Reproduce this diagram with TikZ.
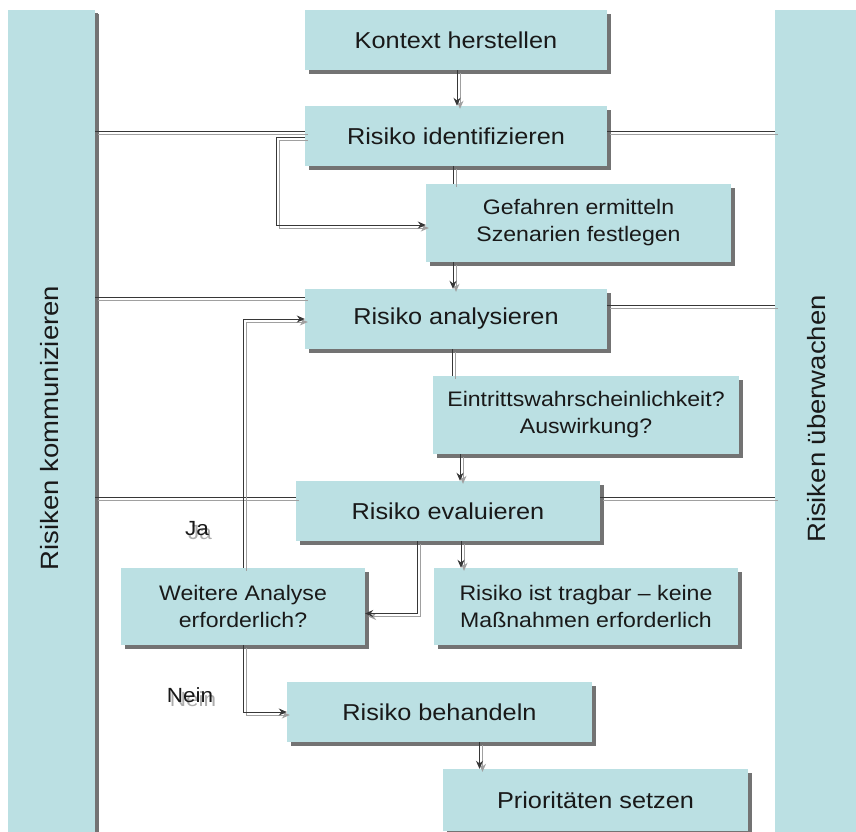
\documentclass[tikz,border=0pt]{standalone}
\usepackage{fontspec}
\setmainfont{Liberation Sans}[FakeStretch=1.1]
\usetikzlibrary{shadows,arrows.meta,calc}
\definecolor{boxfill}{RGB}{187,224,227}
\definecolor{ink}{RGB}{25,25,25}
\definecolor{linkdark}{RGB}{55,55,55}
\definecolor{linklight}{RGB}{160,160,160}
\definecolor{shade}{RGB}{115,115,115}
% every connector is drawn twice: a light offset copy, then the dark line
\newcommand\flowline[2]{\draw[linkshade,#1]#2;\draw[link,#1]#2;}
\begin{document}
\begin{tikzpicture}[x=1pt,y=-1pt,
  procbox/.style={fill=boxfill,draw=none,inner sep=0pt,align=center,text=ink,
    drop shadow={shadow xshift=4pt,shadow yshift=-4pt,fill=shade,opacity=1}},
  bigtext/.style={font=\fontsize{23}{27}\selectfont},
  smalltext/.style={font=\fontsize{21}{27}\selectfont},
  sidetext/.style={font=\fontsize{25}{30}\selectfont,text=ink,rotate=90,inner sep=0pt},
  labeltext/.style={font=\fontsize{20.5}{24}\selectfont,inner sep=0pt},
  link/.style={draw=linkdark,line width=0.9pt},
  linkshade/.style={draw=linklight,line width=0.9pt,transform canvas={xshift=3pt,yshift=-3pt}},
  tip/.style={-{Stealth[length=8pt,width=7pt]}}]
\useasboundingbox (0,0) rectangle (856,831);
\begin{scope}
\clip (0,0) rectangle (856,831);

% side bars
\node[procbox,minimum width=87pt,minimum height=830pt,
  drop shadow={shadow xshift=3pt,shadow yshift=-3pt,fill=shade,opacity=1}] (lbar) at (51.5,425) {};
\node[procbox,minimum width=95pt,minimum height=830pt] (rbar) at (822.5,425) {};
\node[sidetext] (lbartext) at (50,428) {Risiken kommunizieren};
\node[sidetext] (rbartext) at (817,419) {Risiken überwachen};

% process boxes
\node[procbox,bigtext,minimum width=302pt,minimum height=60pt] (b1) at (456,40) {Kontext herstellen};
\node[procbox,bigtext,minimum width=302pt,minimum height=60pt] (b2) at (456,136) {Risiko identifizieren};
\node[procbox,smalltext,minimum width=305pt,minimum height=78pt] (b3) at (578.5,223) {Gefahren ermitteln\\Szenarien festlegen};
\node[procbox,bigtext,minimum width=302pt,minimum height=60pt] (b4) at (456,319) {Risiko analysieren};
\node[procbox,smalltext,minimum width=306pt,minimum height=78pt] (b5) at (586,415) {Eintrittswahrscheinlichkeit?\\Auswirkung?};
\node[procbox,bigtext,minimum width=304pt,minimum height=60pt] (b6) at (448,511) {Risiko evaluieren};
\node[procbox,smalltext,minimum width=244pt,minimum height=77pt] (b7) at (243,606.5) {Weitere Analyse\\erforderlich?};
\node[procbox,smalltext,minimum width=304pt,minimum height=77pt] (b8) at (586,606.5) {Risiko ist tragbar – keine\\Maßnahmen erforderlich};
\node[procbox,bigtext,minimum width=305pt,minimum height=60pt] (b9) at (439.5,712) {Risiko behandeln};
\node[procbox,bigtext,minimum width=305pt,minimum height=62pt] (b10) at (595.5,800) {Prioritäten setzen};

% links between the side bars and the main steps
\coordinate (h1l) at ([yshift=5pt]b2.west);
\coordinate (h1r) at ([yshift=5pt]b2.east);
\coordinate (h2l) at ([yshift=22pt]b4.west);
\coordinate (h2r) at ([yshift=14pt]b4.east);
\coordinate (h3l) at ([yshift=14pt]b6.west);
\coordinate (h3r) at ([yshift=14pt]b6.east);
\flowline{}{(h1l -| lbar.east) -- (h1l)}
\flowline{}{(h1r) -- (h1r -| rbar.west)}
\flowline{}{(h2l -| lbar.east) -- (h2l)}
\flowline{}{(h2r) -- (h2r -| rbar.west)}
\flowline{}{(h3l -| lbar.east) -- (h3l)}
\flowline{}{(h3r) -- (h3r -| rbar.west)}

% process flow
\flowline{tip}{([xshift=1pt]b1.south) -- ([xshift=1pt]b2.north)}
\coordinate (c23) at ([xshift=-3pt]b2.south);
\flowline{}{(c23) -- (c23 |- b3.north)}
\coordinate (l1) at ([yshift=-1pt]b2.west);
\coordinate (l1e) at ([yshift=-2pt]b3.west);
\flowline{tip}{(l1) -- ++(-28,0) |- (l1e)}
\coordinate (c34) at ([xshift=-3pt]b4.north);
\flowline{tip}{(c34 |- b3.south) -- (c34)}
\coordinate (c45) at ([xshift=-4pt]b4.south);
\flowline{}{(c45) -- (c45 |- b5.north)}
\coordinate (c56) at ([xshift=12pt]b6.north);
\flowline{tip}{(c56 |- b5.south) -- (c56)}
\coordinate (c68) at ([xshift=13pt]b6.south);
\flowline{tip}{(c68) -- (c68 |- b8.north)}
\coordinate (c67) at ([xshift=-31pt]b6.south);
\coordinate (c67e) at ([yshift=-7pt]b7.east);
\flowline{tip}{(c67) |- (c67e)}
\flowline{tip}{(b7.north) |- (b4.west)}
\flowline{tip}{(b7.south) |- (b9.west)}
\coordinate (c910) at ([xshift=40pt]b9.south);
\flowline{tip}{(c910) -- (c910 |- b10.north)}

% decision labels (printed with a faint offset copy)
\node[labeltext,text=gray!65] (jaghost) at (200,533) {Ja};
\node[labeltext,text=ink] (ja) at (197,529) {Ja};
\node[labeltext,text=gray!65] (neinghost) at (193,699) {Nein};
\node[labeltext,text=ink] (nein) at (190,695) {Nein};
\end{scope}
\end{tikzpicture}
\end{document}
